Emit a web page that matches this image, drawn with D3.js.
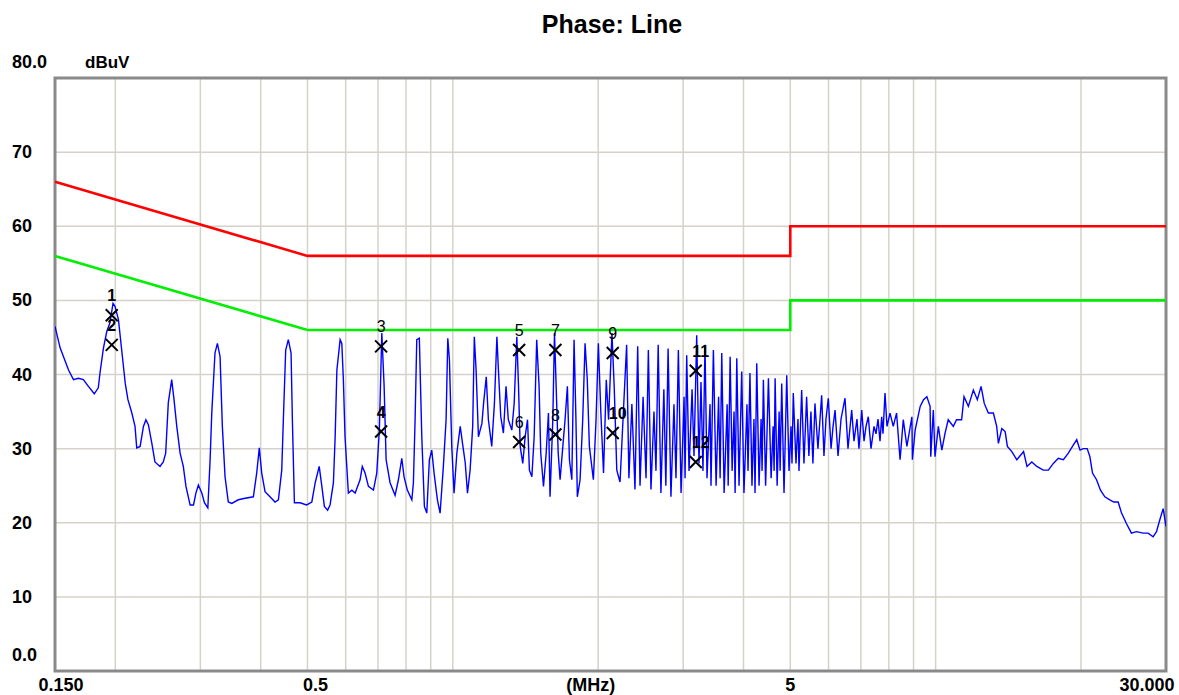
<!DOCTYPE html>
<html><head><meta charset="utf-8">
<script src="https://cdn.jsdelivr.net/npm/d3@7"></script>
<style>body{margin:0;background:#fff}svg{display:block}</style>
</head><body>
<svg id="chart" width="1179" height="695"></svg>
<script>
// ---------- data ----------
const titleText = "Phase: Line";
const yTickValues = [0, 10, 20, 30, 40, 50, 60, 70, 80];
const yTickLabels = ["0.0", "10", "20", "30", "40", "50", "60", "70", "80.0"];
const xTickValues = [0.15, 0.5, 5, 30];
const xTickLabels = ["0.150", "0.5", "5", "30.000"];
const gridFreqs = [0.2, 0.3, 0.4, 0.5, 0.6, 0.7, 0.8, 0.9, 1, 2, 3, 4, 5, 6, 7, 8, 9, 10, 20];

const limitQPFreq = [0.15, 0.5, 5, 5, 30];
const limitQPLevel = [66, 56, 56, 60, 60];
const limitAVFreq = [0.15, 0.5, 5, 5, 30];
const limitAVLevel = [56, 46, 46, 50, 50];

const markerIds = ["1","2","3","4","5","6","7","8","9","10","11","12"];
const markerFreq = [0.1966, 0.1966, 0.7104, 0.7104, 1.372, 1.372, 1.631, 1.631, 2.144, 2.144, 3.185, 3.185];
const markerLevel = [48.0, 44.0, 43.8, 32.3, 43.3, 30.9, 43.3, 31.9, 42.9, 32.1, 40.5, 28.2];

const traceFreq = [
0.1500,0.1537,0.1600,0.1638,0.1677,0.1717,0.1759,0.1809,0.1844,0.1859,0.1889,0.1920,0.1950,0.1978,0.1997,0.2030,0.2064,0.2097,0.2124,0.2164,
0.2197,0.2215,0.2251,0.2287,0.2314,0.2342,0.2379,0.2416,0.2475,0.2514,0.2543,0.2575,0.2617,0.2646,0.2681,0.2724,0.2766,0.2801,0.2857,0.2904,
0.2937,0.2972,0.3021,0.3059,0.3109,0.3143,0.3168,0.3217,0.3254,0.3296,0.3332,0.3375,0.3428,0.3485,0.3595,0.3713,0.3863,0.3925,0.3974,0.4020,
0.4084,0.4182,0.4283,0.4353,0.4423,0.4457,0.4507,0.4564,0.4624,0.4653,0.4698,0.4825,0.4981,0.5105,0.5188,0.5288,0.5355,0.5420,0.5505,0.5569,
0.5659,0.5706,0.5753,0.5843,0.5890,0.5934,0.5981,0.6077,0.6179,0.6277,0.6426,0.6494,0.6581,0.6687,0.6849,0.6958,0.7045,0.7128,0.7207,0.7276,
0.7414,0.7593,0.7715,0.7841,0.7926,0.8051,0.8225,0.8287,0.8354,0.8421,0.8525,0.8625,0.8733,0.8833,0.8942,0.9044,0.9146,0.9292,0.9412,0.9560,
0.9685,0.9764,0.9840,0.9950,
1.006,1.0195,1.036,1.0495,1.061,1.0725,1.086,1.0995,1.108,1.1175,1.130,1.149,1.158,1.173,1.185,1.204,1.2195,1.234,1.243,1.257,
1.273,1.289,1.303,1.325,1.340,1.357,1.368,1.379,1.396,1.412,1.428,1.441,1.458,1.474,1.492,1.509,1.521,1.541,1.561,1.578,
1.590,1.611,1.624,1.637,1.653,1.668,1.690,1.708,1.727,1.744,1.764,1.783,1.799,1.811,1.835,1.858,1.879,1.899,1.918,1.955,
1.980,2.002,2.026,2.052,2.079,2.102,2.136,2.159,2.186,2.213,
2.220,2.252,2.291,2.316,2.349,2.384,2.415,2.442,2.478,2.513,2.541,2.573,2.610,2.635,2.663,2.698,2.736,2.762,2.792,2.830,
2.871,2.899,2.932,2.970,3.013,3.027,3.051,3.085,3.130,3.159,3.200,3.235,3.266,3.297,3.329,3.361,3.410,3.426,3.465,3.510,
3.552,3.578,3.606,3.647,3.700,3.718,3.753,3.789,3.824,3.843,3.874,3.916,3.966,4.009,4.067,4.087,4.125,4.165,4.205,4.226,
4.261,4.308,4.350,4.371,4.398,4.445,4.505,4.563,4.607,4.629,4.651,4.696,4.741,4.763,4.800,4.853,4.916,4.970,5.017,5.041,
5.072,5.138,5.187,5.212,5.279,5.337,5.405,5.464,5.517,5.570,5.624,5.705,5.807,5.871,5.928,5.994,6.073,6.131,6.190,6.279,
6.369,6.491,6.584,6.701,6.775,6.872,6.937,7.030,7.107,7.175,7.254,7.348,7.454,7.525,7.597,7.670,7.732,7.780,7.855,7.930,
8.046,8.17,8.30,8.44,8.57,8.72,8.93,8.95,9.07,9.29,9.44,9.59,9.74,9.77,9.89,9.97,10.13,10.30,10.46,10.62,
10.88,11.05,11.32,11.45,11.69,11.97,12.20,12.42,12.61,12.86,13.17,13.38,13.49,13.71,13.93,14.08,14.38,14.73,15.21,15.46,
15.82,16.20,16.71,17.12,17.53,17.95,18.39,18.83,19.29,19.60,19.91,20.22,20.60,20.87,21.13,21.54,21.95,22.41,22.95,23.39,
23.88,24.27,24.84,25.44,26.06,26.90,27.55,28.21,28.67,29.13,29.60,30.0
];
const traceLevel = [
46.5,43.6,40.6,39.3,39.5,39.3,38.4,37.4,38.2,40.2,43.5,45.8,47.0,49.6,49.2,47.4,43.0,38.8,36.6,34.8,
33.0,30.1,30.3,33.0,33.9,33.2,30.8,28.2,27.6,28.2,29.4,36.2,39.3,36.6,33.0,29.4,27.6,24.9,22.4,22.4,
24.0,25.1,24.0,22.7,22.0,28.5,34.8,42.9,44.2,42.4,33.0,26.2,22.8,22.6,23.1,23.3,23.5,26.7,30.1,26.7,
24.2,23.5,22.8,23.1,27.1,33.9,43.3,44.7,42.9,33.9,22.7,22.7,22.4,22.8,25.4,27.6,24.9,22.2,21.7,22.4,
25.4,31.6,40.6,44.7,44.2,39.3,31.6,24.0,24.4,24.0,25.8,27.6,26.7,24.9,24.4,26.7,32.5,45.6,38.4,28.5,
25.4,23.7,25.8,28.7,26.2,24.4,23.1,25.4,33.9,44.7,44.9,31.6,22.2,21.3,28.5,29.8,26.7,23.1,21.3,27.6,
33.9,44.9,42.0,30.3,
24.0,29.4,33.0,30.3,28.1,24.0,27.1,33.0,45.1,40.6,31.6,33.4,36.1,39.7,33.9,30.3,36.1,45.1,40.6,34.3,
32.1,38.4,33.9,32.5,36.1,45.1,38.4,30.3,28.0,31.6,33.9,27.1,26.2,31.6,44.7,38.4,29.4,24.9,29.4,34.8,
23.5,33.9,45.6,38.4,29.4,25.8,30.3,33.9,38.4,28.5,25.8,44.7,33.9,23.5,25.8,33.9,44.2,39.3,30.3,25.8,
33.9,44.2,34.8,26.7,39.3,33.9,45.6,38.4,27.1,25.8,
25.5,34,44.0,26,36,24.5,43.8,25,37,26,43.3,24.5,35,27,44.0,24,38,25,43.5,23.5,
36,26,43.3,24,37,26,42.6,27,38,29,45.3,28,39,27,44.0,26,36,25,43.3,25,
37,26,42.9,24,36,25,42.4,27,35,24,42.2,25,40.4,24,36,27,40.2,25,34,24,
41.5,25,34,27,39.3,25,39.5,26,33,27,39.5,25,35,27,38.8,24,39.9,27,33,28,
37.5,28,34,27,37.9,28,37.0,29,35,28,36.1,30,37.2,29,34,36.8,30,33,35.2,29,
34,36.8,30,35.2,31,34,30,35.2,31,33,34.3,30,33,32,34,31,34.3,32,37.5,33,
34.8,33.0,34.8,28.5,33.9,30.3,34.3,28.5,32.5,35.7,36.6,37.0,35.7,28.9,35.2,28.9,33.0,29.8,32.1,33.9,
33.0,33.9,33.9,37.0,35.7,37.9,36.6,38.4,36.1,34.8,34.8,33.0,30.7,32.7,32.3,30.3,29.6,28.5,29.6,27.6,
28.2,27.6,27.1,27.1,28.0,28.7,28.5,29.4,30.5,31.2,29.8,30.0,30.0,28.9,26.7,25.8,24.4,23.5,23.1,22.8,
22.8,21.3,19.9,18.6,18.8,18.6,18.6,18.1,18.8,20.4,21.9,19.5
];

// ---------- chart ----------
const svg = d3.select("#chart");
const W = 1179, H = 695;
const plot = {left: 55, right: 1166, top: 78, bottom: 671};

const x = d3.scaleLog().domain([0.15, 30]).range([plot.left, plot.right]);
const y = d3.scaleLinear().domain([0, 80]).range([plot.bottom, plot.top]);

svg.append("rect").attr("width", W).attr("height", H).attr("fill", "#fff");

// grid
const grid = svg.append("g").attr("stroke", "#d6d2ca").attr("stroke-width", 1.5);
grid.selectAll("line.v").data(gridFreqs).join("line").attr("class", "v")
  .attr("x1", d => x(d)).attr("x2", d => x(d))
  .attr("y1", plot.top).attr("y2", plot.bottom);
grid.selectAll("line.h").data(yTickValues.slice(1, -1)).join("line").attr("class", "h")
  .attr("x1", plot.left).attr("x2", plot.right)
  .attr("y1", d => y(d)).attr("y2", d => y(d));

// frame
svg.append("rect").attr("x", plot.left).attr("y", plot.top)
  .attr("width", plot.right - plot.left).attr("height", plot.bottom - plot.top)
  .attr("fill", "none").attr("stroke", "#8a8a8a").attr("stroke-width", 3);

// trace
svg.append("clipPath").attr("id", "clip").append("rect")
  .attr("x", plot.left).attr("y", plot.top).attr("width", plot.right - plot.left).attr("height", plot.bottom - plot.top);
const traceData = traceFreq.map((f, i) => [f, traceLevel[i]]);
const line = d3.line().x(d => x(d[0])).y(d => y(d[1]));
svg.append("path").datum(traceData).attr("d", line)
  .attr("fill", "none").attr("stroke", "#0000ff").attr("stroke-width", 1.4)
  .attr("clip-path", "url(#clip)");

// limits
const qpData = limitQPFreq.map((f, i) => [f, limitQPLevel[i]]);
const avData = limitAVFreq.map((f, i) => [f, limitAVLevel[i]]);
svg.append("path").datum(qpData).attr("d", line).attr("fill", "none")
  .attr("stroke", "#ff0000").attr("stroke-width", 2.6);
svg.append("path").datum(avData).attr("d", line).attr("fill", "none")
  .attr("stroke", "#00ee00").attr("stroke-width", 2.6);

// markers
const mk = svg.append("g");
markerIds.forEach((id, i) => {
  const cx = x(markerFreq[i]), cy = y(markerLevel[i]);
  mk.append("path")
    .attr("d", `M${cx-6},${cy-6}L${cx+6},${cy+6}M${cx+6},${cy-6}L${cx-6},${cy+6}`)
    .attr("stroke", "#000").attr("stroke-width", 2).attr("fill", "none");
  const bold = ["1","2","4","10","11","12"].includes(id);
  mk.append("text").attr("x", cx + (id.length > 1 ? 5 : 0)).attr("y", cy - 14)
    .attr("text-anchor", "middle")
    .attr("font-family", "Liberation Sans, Arial, sans-serif")
    .attr("font-size", 16).attr("font-weight", bold ? "bold" : "normal")
    .attr("fill", "#000").text(id);
});

// axis labels
const lab = svg.append("g").attr("font-family", "Liberation Sans, Arial, sans-serif")
  .attr("font-weight", "bold").attr("font-size", 18).attr("fill", "#000");
lab.selectAll("text.y").data(yTickValues).join("text").attr("class", "y")
  .attr("x", 12)
  .attr("y", d => y(d) + ((d === 0 || d === 80) ? -10 : 6))
  .text((d, i) => yTickLabels[i]);
lab.append("text").attr("x", 85).attr("y", y(80) - 10).attr("font-size", 17).text("dBuV");

const xOff = [6, 8, 0, -19];
lab.selectAll("text.x").data(xTickValues).join("text").attr("class", "x")
  .attr("x", (d, i) => x(d) + xOff[i]).attr("y", 691).attr("text-anchor", "middle")
  .text((d, i) => xTickLabels[i]);
lab.append("text").attr("x", x(1.93)).attr("y", 691).attr("text-anchor", "middle").text("(MHz)");

// title
svg.append("text").attr("x", 612).attr("y", 33).attr("text-anchor", "middle")
  .attr("font-family", "Liberation Sans, Arial, sans-serif").attr("font-weight", "bold")
  .attr("font-size", 25).text(titleText);
</script>
</body></html>
